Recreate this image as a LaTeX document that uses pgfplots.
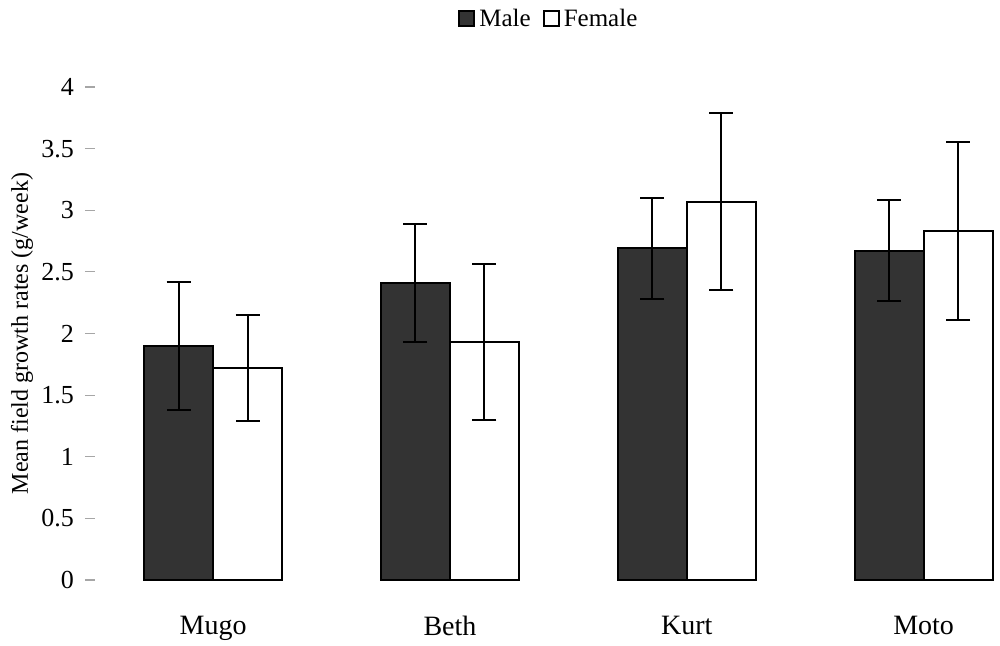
\documentclass[border=0pt]{standalone}
\usepackage{pgfplots}
\pgfplotsset{compat=1.18}
\usepackage{fontspec}
\setmainfont{Liberation Serif}
\begin{document}
\begin{tikzpicture}
\begin{axis}[
  at={(45pt,32.5pt)}, anchor=south west,
  scale only axis, width=453.5pt, height=246.5pt,
  ybar=0pt, bar width=34.5pt,
  xmin=-0.52, xmax=3.31, ymin=0, ymax=4,
  xtick={0,1,2,3}, xticklabels={Mugo,Beth,Kurt,Moto},
  x tick label style={font=\fontsize{14}{16}\selectfont, yshift=-12pt},
  major x tick style={draw=none},
  ytick={0,0.5,...,4},
  yticklabels={0,0.5,1,1.5,2,2.5,3,3.5,4},
  y tick label style={font=\fontsize{13}{14}\selectfont, xshift=-2pt},
  y tick style={black!35, line width=0.6pt},
  major tick length=5pt, tick align=center,
  axis line style={draw=none},
  axis x line*=bottom, axis y line*=left,
  ylabel={Mean field growth rates (g/week)},
  every axis y label/.style={at={(axis description cs:-0.075,0.5)}, rotate=90, anchor=center, font=\fontsize{12}{13}\selectfont},
  clip=false,
  legend style={at={(0.507,1.138)}, anchor=center, draw=none, fill=none,
    legend columns=-1, font=\fontsize{12.5}{14}\selectfont,
    /tikz/every even column/.append style={column sep=4pt}},
  legend image code/.code={\draw[#1, line width=1pt] (0pt,-3.75pt) rectangle (7.5pt,3.75pt);},
  error bars/error bar style={black, line width=1pt},
  error bars/error mark options={black, line width=1pt, rotate=90, mark size=6pt},
]
\addplot[fill=black!80, draw=black, line width=1pt,
  error bars/.cd, y dir=both, y explicit]
  coordinates {(0,1.90) +- (0,0.52) (1,2.41) +- (0,0.48) (2,2.69) +- (0,0.41) (3,2.67) +- (0,0.41)};
\addlegendentry{Male}
\addplot[fill=white, draw=black, line width=1pt,
  error bars/.cd, y dir=both, y explicit]
  coordinates {(0,1.72) +- (0,0.43) (1,1.93) +- (0,0.63) (2,3.07) +- (0,0.72) (3,2.83) +- (0,0.72)};
\addlegendentry{Female}
\end{axis}
\pgfresetboundingbox
\useasboundingbox (0,0) rectangle (500pt,322.5pt);
\end{tikzpicture}
\end{document}
